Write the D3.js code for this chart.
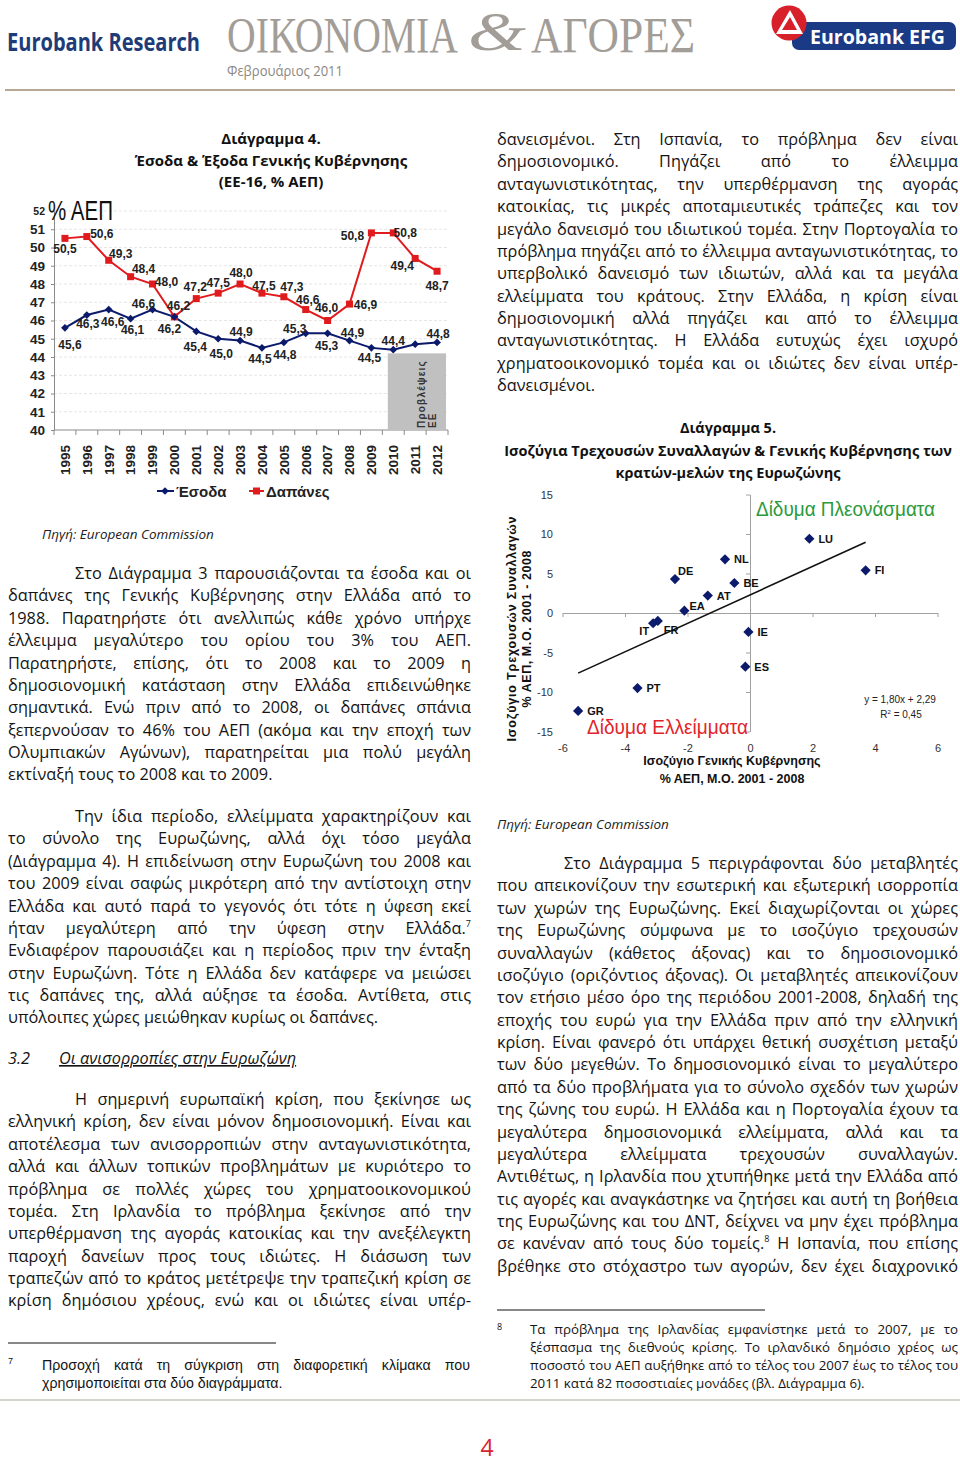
<!DOCTYPE html>
<html>
<head>
<meta charset="utf-8">
<script src="https://cdn.jsdelivr.net/npm/d3@7/dist/d3.min.js"></script>
<style>
  body { margin: 0; background: #fff; }
  #page { position: relative; width: 960px; height: 1464px; overflow: hidden; }
  #page svg { position: absolute; left: 0; top: 0; }
  .ln { position: absolute; white-space: nowrap; font-family: "Open Sans", sans-serif;
        font-size: 16.3px; line-height: 22px; color: #141414; }
  .ln sup { font-size: 9px; line-height: 0; vertical-align: 7px; }
  .fn { font-size: 13.3px; line-height: 18px; }
  .fnarial { font-family: "Liberation Sans", Arial, sans-serif; font-size: 14.2px; }
</style>
</head>
<body>
<div id="page"></div>
<script>
// ---------- Chart 4 data ----------
var years = [1995, 1996, 1997, 1998, 1999, 2000, 2001, 2002, 2003, 2004, 2005, 2006, 2007, 2008, 2009, 2010, 2011, 2012];
var revenue  = [45.6, 46.3, 46.6, 46.1, 46.6, 46.2, 45.4, 45.0, 44.9, 44.5, 44.8, 45.3, 45.3, 44.9, 44.5, 44.4, 44.7, 44.8];
var spending = [50.5, 50.6, 49.3, 48.4, 48.0, 46.2, 47.2, 47.5, 48.0, 47.5, 47.3, 46.6, 46.0, 46.9, 50.8, 50.8, 49.4, 48.7];
var yTicks4 = [40, 41, 42, 43, 44, 45, 46, 47, 48, 49, 50, 51];
// label placement (dx, dy) next to each point; null = no label
var revenueLabelPos = [[5,17],[1,9],[4,12],[2,11],[-9,-6],[-5,12],[-1,15],[3,15],[1,-9],[-2,11],[1,12],[-11,-5],[-1,12],[3,-8],[-2,10],[0,-9],null,[1,-9]];
var spendingLabelPos = [[0,10],[15,-3],[12,-7],[13,-8],[14,-2],[4,-11],[-1,-12],[0,-10],[1,-11],[2,-7],[8,-10],[2,-10],[-1,-13],[16,1],[-19,3],[12,0],[-13,7],[0,14]];

// ---------- Chart 5 data ----------
var countries      = ["GR", "PT", "IT", "FR", "EA", "DE", "AT", "NL", "BE", "IE", "ES", "LU", "FI"];
var fiscalBalance  = [-5.5, -3.6, -3.1, -2.95, -2.1, -2.4, -1.35, -0.8, -0.5, -0.05, -0.15, 1.9, 3.7];
var currentAccount = [-12.4, -9.5, -1.3, -1.0, 0.3, 4.3, 2.2, 6.8, 3.8, -2.4, -6.8, 9.4, 5.4];
var countryLabelPos = [[9,0,"start"],[9,0,"start"],[-4,8,"end"],[6,9,"start"],[5,-5,"start"],[3,-8,"start"],[9,0,"start"],[9,0,"start"],[9,0,"start"],[9,0,"start"],[9,0,"start"],[9,0,"start"],[9,0,"start"]];
var xTicks5 = [-6, -4, -2, 0, 2, 4, 6];
var yTicks5 = [-15, -10, -5, 0, 5, 10, 15];
var trendSlope = 1.80, trendIntercept = 2.29;

// ---------- text ----------
var leftPara1 = [
  "Στο Διάγραμμα 3 παρουσιάζονται τα έσοδα και οι",
  "δαπάνες της Γενικής Κυβέρνησης στην Ελλάδα από το",
  "1988. Παρατηρήστε ότι ανελλιπώς κάθε χρόνο υπήρχε",
  "έλλειμμα μεγαλύτερο του ορίου του 3% του ΑΕΠ.",
  "Παρατηρήστε, επίσης, ότι το 2008 και το 2009 η",
  "δημοσιονομική κατάσταση στην Ελλάδα επιδεινώθηκε",
  "σημαντικά. Ενώ πριν από το 2008, οι δαπάνες σπάνια",
  "ξεπερνούσαν το 46% του ΑΕΠ (ακόμα και την εποχή των",
  "Ολυμπιακών Αγώνων), παρατηρείται μια πολύ μεγάλη",
  "εκτίναξή τους το 2008 και το 2009."
];
var leftPara2 = [
  "Την ίδια περίοδο, ελλείμματα χαρακτηρίζουν και",
  "το σύνολο της Ευρωζώνης, αλλά όχι τόσο μεγάλα",
  "(Διάγραμμα 4). Η επιδείνωση στην Ευρωζώνη του 2008 και",
  "του 2009 είναι σαφώς μικρότερη από την αντίστοιχη στην",
  "Ελλάδα και αυτό παρά το γεγονός ότι τότε η ύφεση εκεί",
  "ήταν μεγαλύτερη από την ύφεση στην Ελλάδα.<sup>7</sup>",
  "Ενδιαφέρον παρουσιάζει και η περίοδος πριν την ένταξη",
  "στην Ευρωζώνη. Τότε η Ελλάδα δεν κατάφερε να μειώσει",
  "τις δαπάνες της, αλλά αύξησε τα έσοδα. Αντίθετα, στις",
  "υπόλοιπες χώρες μειώθηκαν κυρίως οι δαπάνες."
];
var leftPara3 = [
  "Η σημερινή ευρωπαϊκή κρίση, που ξεκίνησε ως",
  "ελληνική κρίση, δεν είναι μόνον δημοσιονομική. Είναι και",
  "αποτέλεσμα των ανισορροπιών στην ανταγωνιστικότητα,",
  "αλλά και άλλων τοπικών προβλημάτων με κυριότερο το",
  "πρόβλημα σε πολλές χώρες του χρηματοοικονομικού",
  "τομέα. Στη Ιρλανδία το πρόβλημα ξεκίνησε από την",
  "υπερθέρμανση της αγοράς κατοικίας και την ανεξέλεγκτη",
  "παροχή δανείων προς τους ιδιώτες. Η διάσωση των",
  "τραπεζών από το κράτος μετέτρεψε την τραπεζική κρίση σε",
  "κρίση δημόσιου χρέους, ενώ και οι ιδιώτες είναι υπέρ-"
];
var rightPara1 = [
  "δανεισμένοι. Στη Ισπανία, το πρόβλημα δεν είναι",
  "δημοσιονομικό. Πηγάζει από το έλλειμμα",
  "ανταγωνιστικότητας, την υπερθέρμανση της αγοράς",
  "κατοικίας, τις μικρές αποταμιευτικές τράπεζες και τον",
  "μεγάλο δανεισμό του ιδιωτικού τομέα. Στην Πορτογαλία το",
  "πρόβλημα πηγάζει από το έλλειμμα ανταγωνιστικότητας, το",
  "υπερβολικό δανεισμό των ιδιωτών, αλλά και τα μεγάλα",
  "ελλείμματα του κράτους. Στην Ελλάδα, η κρίση είναι",
  "δημοσιονομική αλλά πηγάζει και από το έλλειμμα",
  "ανταγωνιστικότητας. Η Ελλάδα ευτυχώς έχει ισχυρό",
  "χρηματοοικονομικό τομέα και οι ιδιώτες δεν είναι υπέρ-",
  "δανεισμένοι."
];
var rightPara2 = [
  "Στο Διάγραμμα 5 περιγράφονται δύο μεταβλητές",
  "που απεικονίζουν την εσωτερική και εξωτερική ισορροπία",
  "των χωρών της Ευρωζώνης. Εκεί διαχωρίζονται οι χώρες",
  "της Ευρωζώνης σύμφωνα με το ισοζύγιο τρεχουσών",
  "συναλλαγών (κάθετος άξονας) και το δημοσιονομικό",
  "ισοζύγιο (οριζόντιος άξονας). Οι μεταβλητές απεικονίζουν",
  "τον ετήσιο μέσο όρο της περιόδου 2001-2008, δηλαδή της",
  "εποχής του ευρώ για την Ελλάδα πριν από την ελληνική",
  "κρίση. Είναι φανερό ότι υπάρχει θετική συσχέτιση μεταξύ",
  "των δύο μεγεθών. Το δημοσιονομικό είναι το μεγαλύτερο",
  "από τα δύο προβλήματα για το σύνολο σχεδόν των χωρών",
  "της ζώνης του ευρώ. Η Ελλάδα και η Πορτογαλία έχουν τα",
  "μεγαλύτερα δημοσιονομικά ελλείμματα, αλλά και τα",
  "μεγαλύτερα ελλείμματα τρεχουσών συναλλαγών.",
  "Αντιθέτως, η Ιρλανδία που χτυπήθηκε μετά την Ελλάδα από",
  "τις αγορές και αναγκάστηκε να ζητήσει και αυτή τη βοήθεια",
  "της Ευρωζώνης και του ΔΝΤ, δείχνει να μην έχει πρόβλημα",
  "σε κανέναν από τους δύο τομείς.<sup>8</sup> Η Ισπανία, που επίσης",
  "βρέθηκε στο στόχαστρο των αγορών, δεν έχει διαχρονικό"
];
var footnote7 = [
  "Προσοχή κατά τη σύγκριση στη διαφορετική κλίμακα που",
  "χρησιμοποιείται στα δύο διαγράμματα."
];
var footnote8 = [
  "Τα πρόβλημα της Ιρλανδίας εμφανίστηκε μετά το 2007, με το",
  "ξέσπασμα της διεθνούς κρίσης. Το ιρλανδικό δημόσιο χρέος ως",
  "ποσοστό του ΑΕΠ αυξήθηκε από το τέλος του 2007 έως το τέλος του",
  "2011 κατά 82 ποσοστιαίες μονάδες (βλ. Διάγραμμα 6)."
];

var page = d3.select("#page");
var svg = page.append("svg").attr("width", 960).attr("height", 1464);
var narrow = '"Liberation Sans Narrow", "Arial Narrow", "Liberation Sans", sans-serif';
var arial = '"Liberation Sans", Arial, sans-serif';
var human = '"Open Sans", sans-serif';
var navy = "#0c1a6b", red = "#e01b1e";

// ---------- header ----------
svg.append("text").attr("x", 7).attr("y", 51)
  .attr("font-family", human).attr("font-weight", 700).attr("font-size", 25)
  .attr("fill", "#1d3c78").attr("textLength", 193).attr("lengthAdjust", "spacingAndGlyphs")
  .text("Eurobank Research");
svg.append("text").attr("x", 227).attr("y", 52)
  .attr("font-family", '"Liberation Serif", serif').attr("font-size", 50)
  .attr("fill", "#a39d98").attr("textLength", 231).attr("lengthAdjust", "spacingAndGlyphs")
  .text("ΟΙΚΟΝΟΜΙΑ");
svg.append("text").attr("x", 468).attr("y", 50)
  .attr("font-family", '"Liberation Serif", serif').attr("font-style", "italic").attr("font-size", 54)
  .attr("fill", "#a39d98").attr("textLength", 58).attr("lengthAdjust", "spacingAndGlyphs")
  .text("&");
svg.append("text").attr("x", 531).attr("y", 52)
  .attr("font-family", '"Liberation Serif", serif').attr("font-size", 50)
  .attr("fill", "#a39d98").attr("textLength", 164).attr("lengthAdjust", "spacingAndGlyphs")
  .text("ΑΓΟΡΕΣ");
svg.append("text").attr("x", 227).attr("y", 76)
  .attr("font-family", human).attr("font-size", 14)
  .attr("fill", "#8d8782").attr("textLength", 116).attr("lengthAdjust", "spacingAndGlyphs")
  .text("Φεβρουάριος 2011");
svg.append("rect").attr("x", 792).attr("y", 22).attr("width", 164).attr("height", 28).attr("rx", 7)
  .attr("fill", "#1b3a86");
svg.append("text").attr("x", 810).attr("y", 44)
  .attr("font-family", human).attr("font-weight", 700).attr("font-size", 19)
  .attr("fill", "#fff").attr("textLength", 135).attr("lengthAdjust", "spacingAndGlyphs")
  .text("Eurobank EFG");
svg.append("circle").attr("cx", 789).attr("cy", 23).attr("r", 17.5).attr("fill", "#d7202a");
svg.append("path").attr("d", "M776,34 L790,10 L803,34 Z M782,30 L790,17 L797,30 Z")
  .attr("fill", "#fff").attr("fill-rule", "evenodd");
svg.append("line").attr("x1", 5).attr("x2", 955).attr("y1", 90).attr("y2", 90)
  .attr("stroke", "#b8a792").attr("stroke-width", 2);

// ---------- Chart 4 ----------
var c4 = svg.append("g");
var x4 = d3.scaleBand().domain(years).range([54, 448]);
var y4 = d3.scaleLinear().domain([40, 52]).range([430, 211]);
var cx4 = function(i) { return x4(years[i]) + x4.bandwidth() / 2; };

c4.append("text").attr("text-anchor", "middle").attr("font-family", human).attr("font-weight", 700)
  .attr("font-size", 15).attr("fill", "#111")
  .selectAll("tspan").data(["Διάγραμμα 4.", "Έσοδα & Έξοδα Γενικής Κυβέρνησης", "(ΕΕ-16, % ΑΕΠ)"])
  .join("tspan").attr("x", 271).attr("y", function(d, i) { return 144 + i * 21.5; }).text(function(d) { return d; });

c4.selectAll("line.grid").data(yTicks4.slice(1).concat([52])).join("line").attr("class", "grid")
  .attr("x1", 54).attr("x2", 448).attr("y1", function(d) { return y4(d); }).attr("y2", function(d) { return y4(d); })
  .attr("stroke", "#e6e6e6").attr("stroke-dasharray", "3,2");

var yAx4 = c4.append("g").attr("transform", "translate(54,0)")
  .call(d3.axisLeft(y4).tickValues(yTicks4).tickSize(3).tickSizeOuter(0).tickPadding(6).tickFormat(d3.format("d")));
yAx4.select(".domain").attr("stroke", "#8a8a8a");
yAx4.selectAll(".tick line").attr("stroke", "#8a8a8a");
yAx4.selectAll("text").attr("font-family", narrow).attr("font-weight", 700).attr("font-size", 13.5).attr("fill", "#222");
c4.append("text").attr("x", 45).attr("y", y4(52) + 4).attr("text-anchor", "end")
  .attr("font-family", narrow).attr("font-weight", 700).attr("font-size", 10.5).attr("fill", "#222").text("52");
c4.append("text").attr("x", 48).attr("y", 220)
  .attr("font-family", narrow).attr("font-size", 28).attr("fill", "#111")
  .attr("textLength", 65).attr("lengthAdjust", "spacingAndGlyphs").text("% ΑΕΠ");

var bounds = years.map(function(d) { return x4(d); }).concat([x4.range()[1]]);
c4.append("line").attr("x1", x4.range()[0]).attr("x2", x4.range()[1]).attr("y1", y4(40)).attr("y2", y4(40)).attr("stroke", "#8a8a8a");
c4.selectAll("line.xt").data(bounds).join("line").attr("class", "xt")
  .attr("x1", function(d) { return d; }).attr("x2", function(d) { return d; })
  .attr("y1", y4(40)).attr("y2", y4(40) + 5).attr("stroke", "#8a8a8a");
c4.selectAll("text.yr").data(years).join("text").attr("class", "yr")
  .attr("transform", function(d, i) { return "translate(" + cx4(i) + ",445) rotate(-90)"; })
  .attr("text-anchor", "end").attr("dy", "0.36em")
  .attr("font-family", arial).attr("font-weight", 700).attr("font-size", 13.5).attr("fill", "#222")
  .text(function(d) { return d; });

var line4 = d3.line().x(function(d, i) { return cx4(i); }).y(function(d) { return y4(d); });
c4.append("path").datum(spending).attr("d", line4).attr("fill", "none").attr("stroke", red).attr("stroke-width", 2);
c4.append("path").datum(revenue).attr("d", line4).attr("fill", "none").attr("stroke", navy).attr("stroke-width", 2);
c4.selectAll("rect.sq").data(spending).join("rect").attr("class", "sq")
  .attr("x", function(d, i) { return cx4(i) - 3.5; }).attr("y", function(d) { return y4(d) - 3.5; })
  .attr("width", 7).attr("height", 7).attr("fill", red);
c4.selectAll("path.dm").data(revenue).join("path").attr("class", "dm")
  .attr("d", d3.symbol(d3.symbolSquare, 30))
  .attr("transform", function(d, i) { return "translate(" + cx4(i) + "," + y4(d) + ") rotate(45)"; })
  .attr("fill", navy);

var fmt = function(v) { return v.toFixed(1).replace(".", ","); };
function pointLabels(vals, pos, cls) {
  c4.selectAll("text." + cls).data(vals.map(function(v, i) { return { v: v, i: i, p: pos[i] }; }).filter(function(d) { return d.p; }))
    .join("text").attr("class", cls)
    .attr("x", function(d) { return cx4(d.i) + d.p[0]; })
    .attr("y", function(d) { return y4(d.v) + d.p[1]; })
    .attr("dy", "0.36em").attr("text-anchor", "middle")
    .attr("font-family", narrow).attr("font-weight", 700).attr("font-size", 12).attr("fill", "#222")
    .text(function(d) { return fmt(d.v); });
}
pointLabels(spending, spendingLabelPos, "lsp");
pointLabels(revenue, revenueLabelPos, "lrv");

// forecast box
var boxX = x4(2010) + x4.bandwidth() / 4, boxY = y4(44.2);
c4.append("rect").attr("x", boxX).attr("y", boxY).attr("width", x4.range()[1] - 2 - boxX).attr("height", y4(40) - boxY)
  .attr("fill", "#c0c0c0");
c4.selectAll("text.fc").data(["Προβλέψεις", "ΕΕ"]).join("text").attr("class", "fc")
  .attr("transform", function(d, i) { return "translate(" + (421 + i * 11) + ",428) rotate(-90)"; })
  .attr("dy", "0.36em").attr("font-family", arial).attr("font-weight", 700).attr("font-size", 10)
  .attr("letter-spacing", 1.2).attr("fill", "#333").text(function(d) { return d; });

// legend
var leg = c4.append("g");
leg.append("line").attr("x1", 157).attr("x2", 174).attr("y1", 491).attr("y2", 491).attr("stroke", navy).attr("stroke-width", 2);
leg.append("path").attr("d", d3.symbol(d3.symbolSquare, 30)).attr("transform", "translate(165,491) rotate(45)").attr("fill", navy);
leg.append("text").attr("x", 176).attr("y", 497).attr("font-family", arial).attr("font-weight", 700).attr("font-size", 15).attr("fill", "#222").text("Έσοδα");
leg.append("line").attr("x1", 249).attr("x2", 264).attr("y1", 491).attr("y2", 491).attr("stroke", red).attr("stroke-width", 2);
leg.append("rect").attr("x", 253).attr("y", 487.5).attr("width", 7).attr("height", 7).attr("fill", red);
leg.append("text").attr("x", 266).attr("y", 497).attr("font-family", arial).attr("font-weight", 700).attr("font-size", 15).attr("fill", "#222").text("Δαπάνες");

svg.append("text").attr("x", 42).attr("y", 539).attr("font-family", human).attr("font-style", "italic")
  .attr("font-size", 13.5).attr("fill", "#222").text("Πηγή: European Commission");

// ---------- Chart 5 ----------
var c5 = svg.append("g");
var x5 = d3.scaleLinear().domain([-6, 6]).range([562.5, 937.5]);
var y5 = d3.scaleLinear().domain([-15, 15]).range([731.5, 494.5]);

c5.append("text").attr("text-anchor", "middle").attr("font-family", human).attr("font-weight", 700)
  .attr("font-size", 14.5).attr("fill", "#111")
  .selectAll("tspan").data(["Διάγραμμα 5.", "Ισοζύγια Τρεχουσών Συναλλαγών & Γενικής Κυβέρνησης των", "κρατών-μελών της Ευρωζώνης"])
  .join("tspan").attr("x", 728).attr("y", function(d, i) { return 433 + i * 22.5; }).text(function(d) { return d; });

var xAx5 = c5.append("g").attr("transform", "translate(0," + y5(0) + ")")
  .call(d3.axisBottom(x5).tickValues(xTicks5).tickSize(4).tickSizeOuter(0).tickFormat(""));
var yAx5 = c5.append("g").attr("transform", "translate(" + x5(0) + ",0)")
  .call(d3.axisLeft(y5).tickValues(yTicks5).tickSize(4).tickSizeOuter(0).tickFormat(""));
[xAx5, yAx5].forEach(function(a) { a.selectAll("path,line").attr("stroke", "#a0a0a0"); });

var xLab5 = c5.append("g").attr("transform", "translate(0,741)")
  .call(d3.axisBottom(x5).tickValues(xTicks5).tickSize(0).tickFormat(function(d) { return String(d); }));
var yLab5 = c5.append("g").attr("transform", "translate(556,0)")
  .call(d3.axisLeft(y5).tickValues(yTicks5).tickSize(0).tickPadding(3).tickFormat(function(d) { return String(d); }));
[xLab5, yLab5].forEach(function(a) {
  a.select(".domain").remove();
  a.selectAll("text").attr("font-family", arial).attr("font-size", 11).attr("fill", "#333");
});

var trendX = d3.extent(fiscalBalance);
c5.append("line").attr("x1", x5(trendX[0])).attr("y1", y5(trendSlope * trendX[0] + trendIntercept))
  .attr("x2", x5(trendX[1])).attr("y2", y5(trendSlope * trendX[1] + trendIntercept))
  .attr("stroke", "#111").attr("stroke-width", 1.6);

c5.selectAll("path.pt").data(countries).join("path").attr("class", "pt")
  .attr("d", d3.symbol(d3.symbolSquare, 52))
  .attr("transform", function(d, i) { return "translate(" + x5(fiscalBalance[i]) + "," + y5(currentAccount[i]) + ") rotate(45)"; })
  .attr("fill", navy);
c5.selectAll("text.cl").data(countries).join("text").attr("class", "cl")
  .attr("x", function(d, i) { return x5(fiscalBalance[i]) + countryLabelPos[i][0]; })
  .attr("y", function(d, i) { return y5(currentAccount[i]) + countryLabelPos[i][1]; })
  .attr("text-anchor", function(d, i) { return countryLabelPos[i][2]; })
  .attr("dy", "0.36em").attr("font-family", arial).attr("font-weight", 700).attr("font-size", 11).attr("fill", "#111")
  .text(function(d) { return d; });

c5.append("text").attr("x", 756).attr("y", 516).attr("font-family", arial).attr("font-size", 20)
  .attr("fill", "#2a9a3c").attr("textLength", 179).attr("lengthAdjust", "spacingAndGlyphs").text("Δίδυμα Πλεονάσματα");
c5.append("text").attr("x", 587).attr("y", 734).attr("font-family", arial).attr("font-size", 20)
  .attr("fill", "#e2232b").attr("textLength", 161).attr("lengthAdjust", "spacingAndGlyphs").text("Δίδυμα Ελλείμματα");

var eq = c5.append("text").attr("text-anchor", "middle").attr("font-family", arial).attr("font-size", 10).attr("fill", "#222");
eq.append("tspan").attr("x", 900).attr("y", 703).text("y = 1,80x + 2,29");
var r2 = c5.append("text").attr("x", 901).attr("y", 718).attr("text-anchor", "middle")
  .attr("font-family", arial).attr("font-size", 10).attr("fill", "#222");
r2.append("tspan").text("R");
r2.append("tspan").attr("font-size", 6).attr("dy", -4).text("2");
r2.append("tspan").attr("dy", 4).text(" = 0,45");

c5.selectAll("text.yt").data([["Ισοζύγιο Τρεχουσών Συναλλαγών", 225, 511], ["% ΑΕΠ, Μ.Ο. 2001 - 2008", 157, 526]]).join("text")
  .attr("class", "yt")
  .attr("transform", function(d) { return "translate(" + d[2] + ",629) rotate(-90)"; })
  .attr("text-anchor", "middle").attr("dy", "0.36em")
  .attr("font-family", arial).attr("font-weight", 700).attr("font-size", 12.5).attr("fill", "#111")
  .attr("textLength", function(d) { return d[1]; }).attr("lengthAdjust", "spacing")
  .text(function(d) { return d[0]; });
c5.selectAll("text.xtl").data(["Ισοζύγιο Γενικής Κυβέρνησης", "% ΑΕΠ, Μ.Ο. 2001 - 2008"]).join("text")
  .attr("class", "xtl").attr("x", 732).attr("y", function(d, i) { return 765 + i * 18; })
  .attr("text-anchor", "middle").attr("font-family", arial).attr("font-weight", 700).attr("font-size", 12.5).attr("fill", "#111")
  .text(function(d) { return d; });

svg.append("text").attr("x", 497).attr("y", 829).attr("font-family", human).attr("font-style", "italic")
  .attr("font-size", 13.5).attr("fill", "#222").text("Πηγή: European Commission");

// ---------- section heading, footnotes, page number ----------
svg.append("text").attr("x", 8).attr("y", 1064).attr("font-family", human).attr("font-style", "italic")
  .attr("font-size", 16.3).attr("fill", "#141414").text("3.2");
svg.append("text").attr("x", 59).attr("y", 1064).attr("font-family", human).attr("font-style", "italic")
  .attr("font-size", 16.3).attr("fill", "#141414").attr("text-decoration", "underline").text("Οι ανισορροπίες στην Ευρωζώνη");

svg.append("line").attr("x1", 8).attr("x2", 276).attr("y1", 1343).attr("y2", 1343).attr("stroke", "#111");
svg.append("line").attr("x1", 497).attr("x2", 765).attr("y1", 1310).attr("y2", 1310).attr("stroke", "#111");
svg.append("text").attr("x", 8).attr("y", 1364).attr("font-family", arial).attr("font-size", 9).attr("fill", "#111").text("7");
svg.append("text").attr("x", 497).attr("y", 1330).attr("font-family", human).attr("font-size", 9).attr("fill", "#111").text("8");
svg.append("line").attr("x1", 0).attr("x2", 960).attr("y1", 1400).attr("y2", 1400).attr("stroke", "#d6d3cf").attr("stroke-width", 2);
svg.append("text").attr("x", 487).attr("y", 1456).attr("text-anchor", "middle").attr("font-family", human)
  .attr("font-size", 23).attr("fill", "#d9232e").text("4");

// ---------- justified body text ----------
function textLines(lines, opt) {
  lines.forEach(function(s, i) {
    var ind = i === 0 ? (opt.indent || 0) : 0;
    var div = page.append("div").attr("class", "ln " + (opt.cls || ""))
      .style("left", (opt.x + ind) + "px").style("top", "0px");
    var span = div.append("span").html(s);
    var mark = div.append("span").style("display", "inline-block").style("width", "0px").style("height", "0px");
    if (i < lines.length - 1 || opt.justifyLast) {
      var w = span.node().getBoundingClientRect().width;
      var n = (span.text().match(/ /g) || []).length;
      if (n) span.style("word-spacing", ((opt.width - ind - w) / n) + "px");
    }
    var b = mark.node().getBoundingClientRect().top - div.node().getBoundingClientRect().top;
    div.style("top", (opt.y + i * opt.lh - b) + "px");
  });
}
var LH = 22.38;
textLines(leftPara1, { x: 8, width: 463, indent: 67, y: 579, lh: LH });
textLines(leftPara2, { x: 8, width: 463, indent: 67, y: 822, lh: LH });
textLines(leftPara3, { x: 8, width: 463, indent: 67, y: 1105, lh: LH, justifyLast: true });
textLines(rightPara1, { x: 497, width: 461, indent: 0, y: 145, lh: LH });
textLines(rightPara2, { x: 497, width: 461, indent: 67, y: 869, lh: LH, justifyLast: true });
textLines(footnote7, { x: 42, width: 428, indent: 0, y: 1370, lh: 18, cls: "fn fnarial" });
textLines(footnote8, { x: 530, width: 428, indent: 0, y: 1334, lh: 18, cls: "fn" });
</script>
</body>
</html>
